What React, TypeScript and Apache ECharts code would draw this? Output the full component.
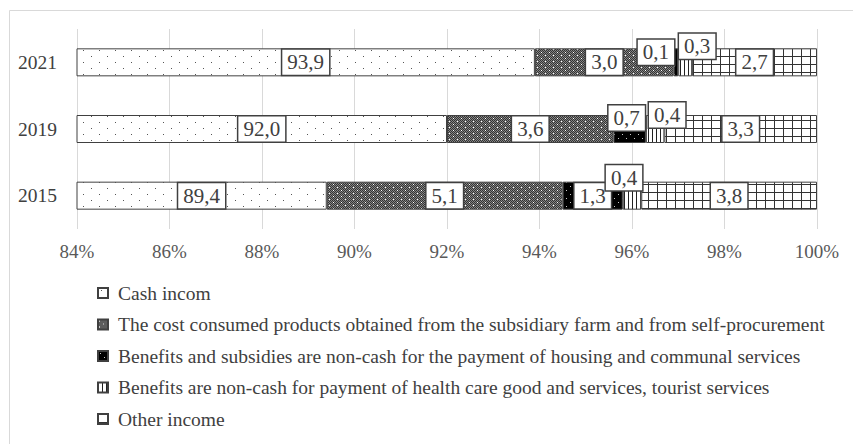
import React, { useEffect, useRef } from "react";
import * as echarts from "echarts";

const years = ["2015", "2019", "2021"];
const seriesNames = [
  "Cash incom",
  "The cost consumed products obtained from the subsidiary farm and from self-procurement",
  "Benefits and subsidies are non-cash for the payment of housing and communal services",
  "Benefits are non-cash for payment of health care good and services, tourist services",
  "Other income",
];
const cashIncome = [89.4, 92.0, 93.9];
const costConsumed = [5.1, 3.6, 3.0];
const housingBenefits = [1.3, 0.7, 0.1];
const healthBenefits = [0.4, 0.4, 0.3];
const otherIncome = [3.8, 3.3, 2.7];
const xTicks = { min: 84, max: 100, interval: 2 };

// label nudges (px) per series per year, to reproduce the hand-placed labels
const labelNudges: number[][][] = [
  [[0, 0], [0, 0], [0, 0]],
  [[0, 0], [0, 0], [0, 0]],
  [[0, 0], [-3, -11], [-20, -10]],
  [[-8, -18], [12, -14], [12, -16]],
  [[0, 0], [0, 0], [0, 0]],
];

const FONT = '"Liberation Serif", "Times New Roman", serif';

function makeTile(w: number, h: number, draw: (ctx: CanvasRenderingContext2D) => void) {
  const c = document.createElement("canvas");
  c.width = w;
  c.height = h;
  const ctx = c.getContext("2d")!;
  draw(ctx);
  return c;
}

function patterns() {
  const dots = makeTile(16, 12, (ctx) => {
    ctx.fillStyle = "#ffffff";
    ctx.fillRect(0, 0, 16, 12);
    ctx.fillStyle = "#555555";
    ctx.fillRect(3, 2, 1, 1);
    ctx.fillRect(11, 8, 1, 1);
  });
  const cost = makeTile(8, 6, (ctx) => {
    for (let y = 0; y < 6; y++)
      for (let x = 0; x < 8; x++) {
        ctx.fillStyle = (x + y) % 2 === 0 ? "#333333" : "#858585";
        ctx.fillRect(x, y, 1, 1);
      }
    ctx.fillStyle = "#ffffff";
    ctx.fillRect(1, 1, 1, 1);
    ctx.fillRect(5, 4, 1, 1);
  });
  const black = makeTile(8, 8, (ctx) => {
    ctx.fillStyle = "#000000";
    ctx.fillRect(0, 0, 8, 8);
    ctx.fillStyle = "#cccccc";
    ctx.fillRect(2, 2, 1, 1);
    ctx.fillRect(6, 6, 1, 1);
  });
  const vlines = makeTile(4, 4, (ctx) => {
    ctx.fillStyle = "#ffffff";
    ctx.fillRect(0, 0, 4, 4);
    ctx.fillStyle = "#222222";
    ctx.fillRect(0, 0, 1, 4);
  });
  const grid = makeTile(9, 8, (ctx) => {
    ctx.fillStyle = "#ffffff";
    ctx.fillRect(0, 0, 9, 8);
    ctx.fillStyle = "#333333";
    ctx.fillRect(0, 0, 1, 8);
    ctx.fillRect(0, 0, 9, 1);
  });
  return [dots, cost, black, vlines, grid];
}

export default function App() {
  const ref = useRef<HTMLDivElement>(null);
  useEffect(() => {
    if (!ref.current) return;
    const chart = echarts.init(ref.current, null, { renderer: "svg" });
    const tiles = patterns();
    const values = [cashIncome, costConsumed, housingBenefits, healthBenefits, otherIncome];
    const series = values.map((vals, si) => ({
      name: seriesNames[si],
      type: "bar",
      stack: "total",
      barWidth: 28,
      itemStyle: {
        color: { image: tiles[si], repeat: "repeat" },
        borderColor: "#404040",
        borderWidth: 1,
      },
      label: {
        show: true,
        position: "inside",
        formatter: (p: any) => Number(p.value).toFixed(1).replace(".", ","),
        fontFamily: FONT,
        fontSize: 21,
        color: "#404040",
        backgroundColor: "#ffffff",
        borderColor: "#404040",
        borderWidth: 1.5,
        padding: [3, 5, 1, 5],
      },
      data: vals.map((v, i) => ({
        value: v,
        label: { offset: labelNudges[si][i] },
      })),
    }));
    chart.setOption({
      animation: false,
      graphic: [
        {
          type: "rect",
          left: 7,
          top: 8,
          shape: { width: 900, height: 500 },
          style: { fill: "none", stroke: "#d9d9d9", lineWidth: 1 },
          silent: true,
        },
      ],
      grid: { left: 77, right: 36, top: 29, bottom: 215, containLabel: false },
      xAxis: {
        type: "value",
        min: xTicks.min,
        max: xTicks.max,
        interval: xTicks.interval,
        axisLine: { show: false },
        axisTick: { show: false },
        splitLine: { show: true, lineStyle: { color: "#d9d9d9", width: 1 } },
        axisLabel: {
          formatter: "{value}%",
          fontFamily: FONT,
          fontSize: 19,
          color: "#595959",
          margin: 13,
        },
      },
      yAxis: {
        type: "category",
        data: years,
        axisLine: { show: false },
        axisTick: { show: false },
        axisLabel: { fontFamily: FONT, fontSize: 19.5, color: "#404040", margin: 20 },
      },
      legend: {
        orient: "vertical",
        left: 97,
        top: 283,
        padding: 0,
        itemWidth: 10,
        itemHeight: 10,
        itemGap: 11.5,
        icon: "rect",
        textStyle: {
          fontFamily: FONT,
          fontSize: 19.5,
          color: "#404040",
          lineHeight: 20,
          padding: [0, 0, 0, 5],
        },
        data: seriesNames,
      },
      series,
    });
    return () => chart.dispose();
  }, []);
  return (
    <div
      ref={ref}
      style={{ position: "fixed", left: 0, top: 0, width: 853, height: 444, background: "#fff" }}
    />
  );
}
